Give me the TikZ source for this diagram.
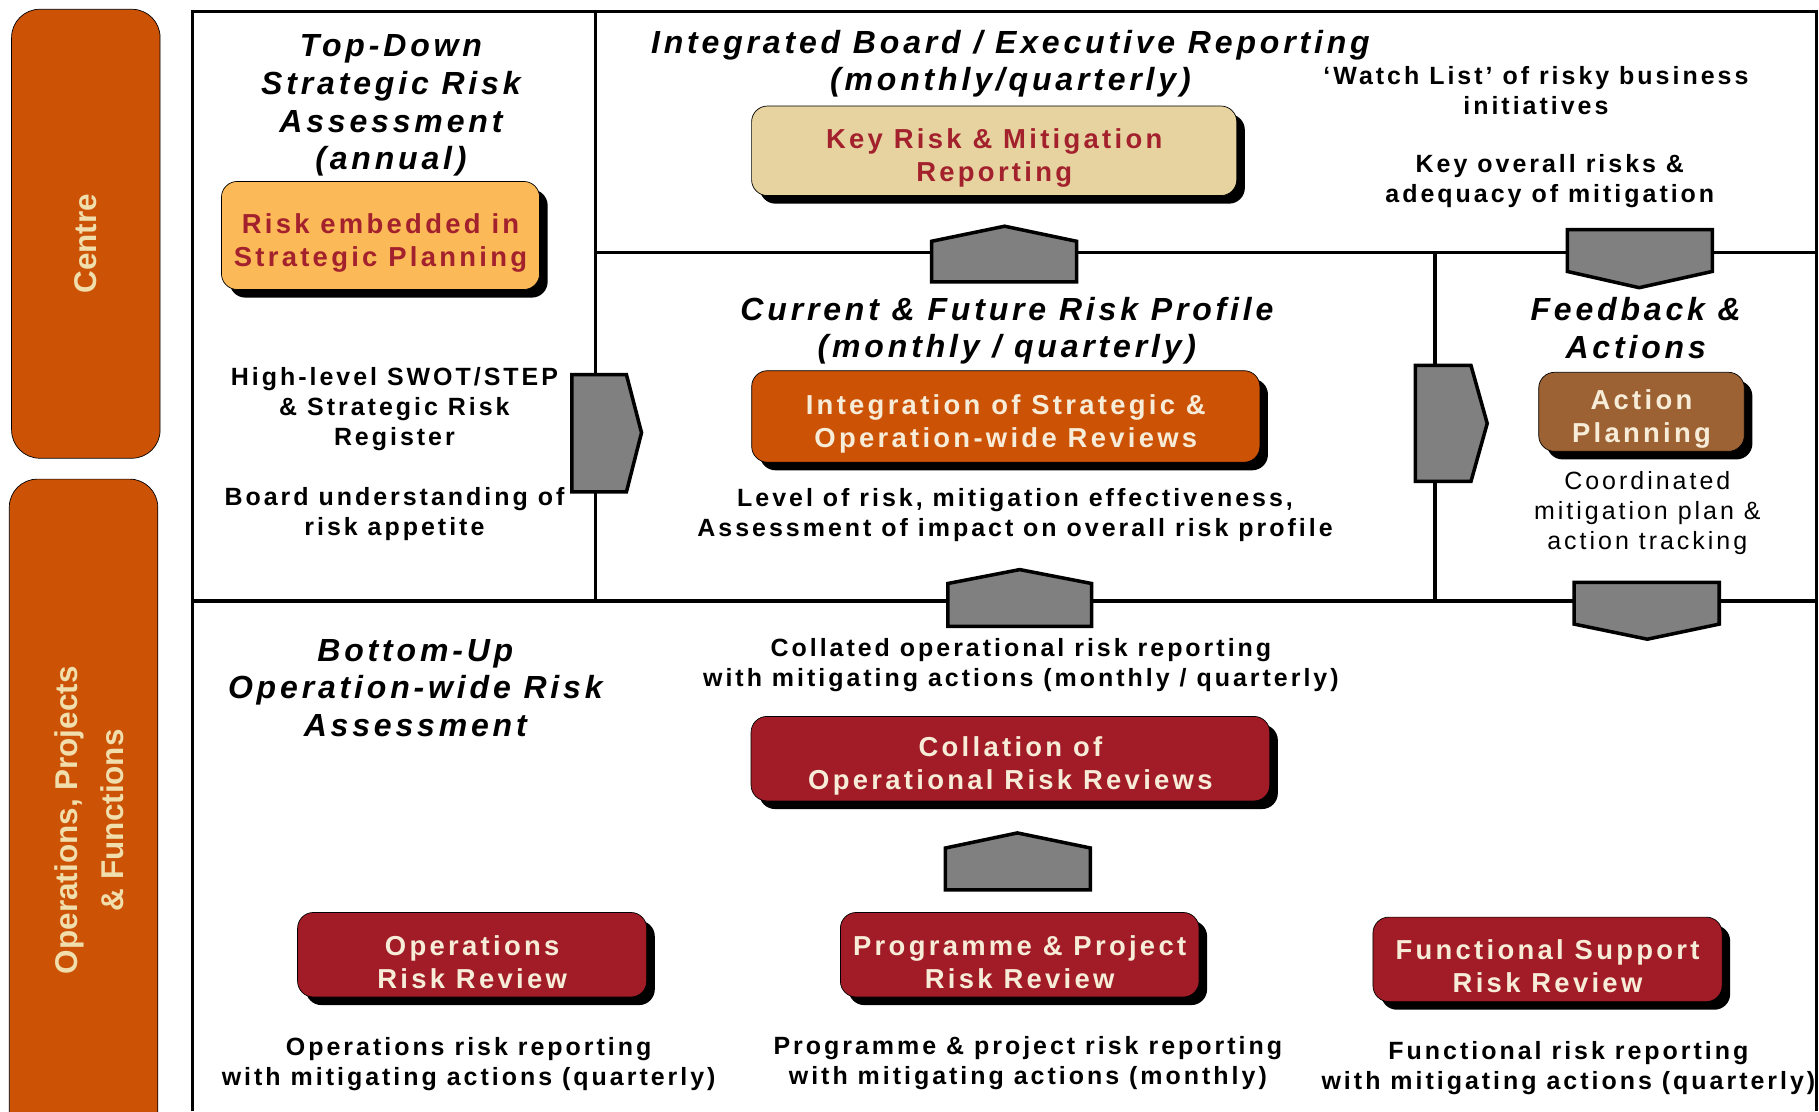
\documentclass[tikz,border=0pt]{standalone}
\usepackage{fontspec}
\setmainfont{Liberation Sans}
\newfontfamily\trackfont[LetterSpace=12]{Liberation Sans}
\usetikzlibrary{shadows}

\definecolor{barorange}{RGB}{204,82,6}
\definecolor{barcream}{RGB}{240,222,172}
\definecolor{boxtext}{RGB}{247,236,216}
\definecolor{riskred}{RGB}{163,33,45}
\definecolor{planorange}{RGB}{251,185,87}
\definecolor{reporttan}{RGB}{230,211,159}
\definecolor{actionbrown}{RGB}{156,98,51}
\definecolor{reviewred}{RGB}{161,28,39}
\definecolor{arrowgrey}{RGB}{128,128,128}

% extra room above the first line of a box text
\newcommand{\topgap}{\rule{0pt}{19.5pt}}

\tikzset{
  riskbox/.style={draw=black, thin, rounded corners=9pt, inner sep=0pt, align=center,
    drop shadow={opacity=1, fill=black, shadow xshift=4.6pt, shadow yshift=-4.6pt},
    font=\trackfont\bfseries\fontsize{15.6}{18.8}\selectfont},
  heading/.style={align=center, font=\trackfont\bfseries\itshape\fontsize{18.2}{21.4}\selectfont},
  note/.style={align=center, font=\trackfont\bfseries\fontsize{14.2}{17.1}\selectfont},
  blockarrow/.style={draw=black, line width=2pt, fill=arrowgrey, line join=miter},
  frameline/.style={line width=1.8pt},
  sidebar/.style={draw=black, thin, fill=barorange, rounded corners=16pt},
  barlabel/.style={rotate=90, align=center, text=barcream, font=\bfseries\fontsize{17.9}{26}\selectfont}
}

\begin{document}
\begin{tikzpicture}[x=0.0232cm, y=-0.0232cm]
\useasboundingbox (0,0) rectangle (1568,958);
\fill[white] (0,0) rectangle (1568,958);
\clip (0,0) rectangle (1568,958);

% side bars
\draw[sidebar] (10,8) rectangle (138,395);
\draw[sidebar] (8,413) rectangle (136,990);
\node[barlabel] (centre) at (74,210) {Centre};
\node[barlabel] (ops) at (77,707) {Operations, Projects\\\& Functions};

% frame
\draw[frameline] (166,958) -- (166,10) -- (1566,10) -- (1566,958);
\draw[frameline] (513,10) -- (513,518);
\draw[frameline] (513,218) -- (1566,218);
\draw[frameline] (1237,218) -- (1237,518);
\draw[frameline] (166,518) -- (1566,518);

% headings
\node[heading] (topdown) at (337,91) {Top-Down\\Strategic Risk\\Assessment\\(annual)};
\node[heading] (board) at (871,55) {Integrated Board / Executive Reporting\\(monthly/quarterly)};
\node[heading] (profile) at (868,285) {Current \& Future Risk Profile\\(monthly / quarterly)};
\node[heading] (feedback) at (1410,283) {Feedback \&\\Actions};
\node[heading] (bottomup) at (358,593) {Bottom-Up\\Operation-wide Risk\\Assessment};

% boxes
\node[riskbox, fill=planorange, text=riskred, minimum width=6.36cm, minimum height=2.16cm]
  (planning) at (328,203) {\topgap Risk embedded in\\Strategic Planning};
\node[riskbox, fill=reporttan, text=riskred, minimum width=9.70cm, minimum height=1.79cm]
  (keyrisk) at (857,130) {\topgap Key Risk \& Mitigation\\Reporting};
\node[riskbox, fill=barorange, text=boxtext, minimum width=10.16cm, minimum height=1.83cm]
  (integ) at (867,359) {\topgap Integration of Strategic \&\\Operation-wide Reviews};
\node[riskbox, fill=actionbrown, text=boxtext, minimum width=4.11cm, minimum height=1.58cm]
  (action) at (1415,355) {\topgap Action\\Planning};
\node[riskbox, fill=reviewred, text=boxtext, minimum width=10.37cm, minimum height=1.69cm]
  (collation) at (871,654) {\topgap Collation of\\Operational Risk Reviews};
\node[riskbox, fill=reviewred, text=boxtext, minimum width=6.98cm, minimum height=1.69cm]
  (opsrev) at (407,823) {\topgap Operations\\Risk Review};
\node[riskbox, fill=reviewred, text=boxtext, minimum width=7.17cm, minimum height=1.69cm]
  (progrev) at (879,823) {\topgap Programme \& Project\\Risk Review};
\node[riskbox, fill=reviewred, text=boxtext, minimum width=6.98cm, minimum height=1.69cm]
  (funcrev) at (1334,827) {\topgap Functional Support\\Risk Review};

% notes
\node[note] (watch) at (1324,78) {‘Watch List’ of risky business\\initiatives};
\node[note] (keyover) at (1336,156) {Key overall risks \&\\adequacy of mitigation};
\node[note] (swot) at (340,353) {High-level SWOT/STEP\\\& Strategic Risk\\Register};
\node[note] (appetite) at (340,443) {Board understanding of\\risk appetite};
\node[note] (level) at (875,444) {Level of risk, mitigation effectiveness,\\Assessment of impact on overall risk profile};
\node[note, font=\trackfont\fontsize{14.2}{17.1}\selectfont] (coord) at (1420,442) {Coordinated\\mitigation plan \&\\action tracking};
\node[note] (collated) at (880,573) {Collated operational risk reporting\\with mitigating actions (monthly / quarterly)};
\node[note] (opsrep) at (404,917) {Operations risk reporting\\with mitigating actions (quarterly)};
\node[note] (progrep) at (886,916) {Programme \& project risk reporting\\with mitigating actions (monthly)};
\node[note] (funcrep) at (1352,921) {Functional risk reporting\\with mitigating actions (quarterly)};

% block arrows
\draw[blockarrow] (803,243) -- (803,208) -- (866,195) -- (928,208) -- (928,243) -- cycle;
\draw[blockarrow] (493,323) -- (540,323) -- (553,373) -- (540,424) -- (493,424) -- cycle;
\draw[blockarrow] (1351,198) -- (1476,198) -- (1476,234) -- (1413,248) -- (1351,234) -- cycle;
\draw[blockarrow] (1220,315) -- (1268,315) -- (1282,365) -- (1268,415) -- (1220,415) -- cycle;
\draw[blockarrow] (817,540) -- (817,503) -- (879,491) -- (941,503) -- (941,540) -- cycle;
\draw[blockarrow] (1357,502) -- (1482,502) -- (1482,538) -- (1420,551) -- (1357,538) -- cycle;
\draw[blockarrow] (815,767) -- (815,731) -- (877,718) -- (940,731) -- (940,767) -- cycle;
\end{tikzpicture}
\end{document}
